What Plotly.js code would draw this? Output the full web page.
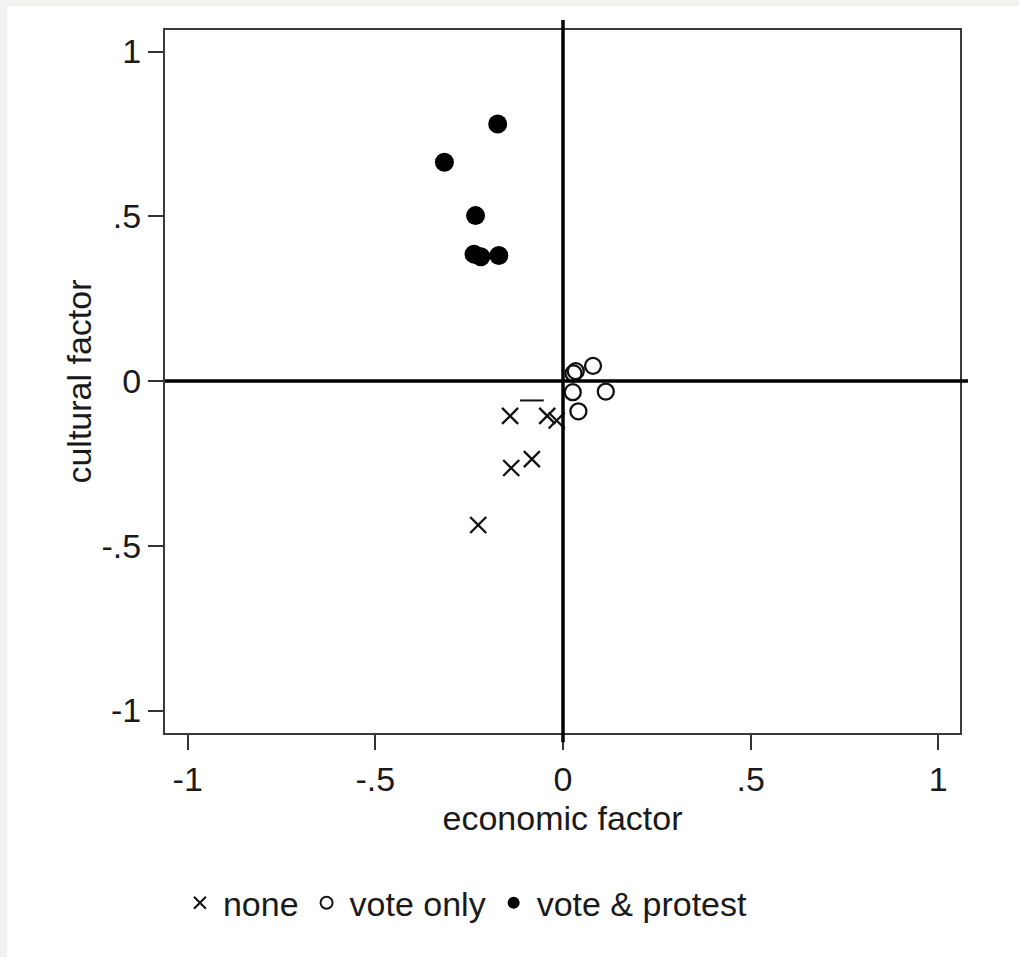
<!DOCTYPE html>
<html>
<head>
<meta charset="utf-8">
<script src="https://cdn.plot.ly/plotly-3.0.1.min.js"></script>
<style>
  html, body { margin: 0; padding: 0; background: #f2f2f0; width: 1019px; height: 957px; overflow: hidden; }
  #chart { position: absolute; left: 7px; top: 6px; width: 1012px; height: 951px; background: #ffffff; }
</style>
</head>
<body>
<div id="chart"></div>
<script>
// ---- data ----
const noneX = [-0.141, -0.042, -0.017, -0.138, -0.083, -0.226];
const noneY = [-0.106, -0.106, -0.120, -0.264, -0.237, -0.437];

const voteOnlyX = [0.034, 0.028, 0.080, 0.026, 0.114, 0.041];
const voteOnlyY = [0.030, 0.023, 0.046, -0.034, -0.032, -0.092];

const protestX = [-0.174, -0.316, -0.233, -0.237, -0.219, -0.171];
const protestY = [0.780, 0.664, 0.502, 0.385, 0.377, 0.381];

const strayX = [-0.083];
const strayY = [-0.059];

const tickVals = [-1, -0.5, 0, 0.5, 1];
const tickText = ['-1', '-.5', '0', '.5', '1'];

const seriesNames = ['none', 'vote only', 'vote & protest'];

const xRange = [-1.0605, 1.0578];
const yRange = [-1.0683, 1.0653];

// ---- chart ----
const font = { family: 'Liberation Sans, Arial, sans-serif', size: 34, color: '#1a1a1a' };

const traces = [
  { type: 'scatter', mode: 'markers', name: seriesNames[0], x: noneX, y: noneY,
    marker: { symbol: 'x-thin-open', size: 16, color: '#111', line: { width: 2.3, color: '#111' } } },
  { type: 'scatter', mode: 'markers', name: seriesNames[1], x: voteOnlyX, y: voteOnlyY,
    marker: { symbol: 'circle-open', size: 16, color: '#111', line: { width: 2.3, color: '#111' } } },
  { type: 'scatter', mode: 'markers', name: seriesNames[2], x: protestX, y: protestY,
    marker: { symbol: 'circle', size: 19, color: '#000' } },
  { type: 'scatter', mode: 'markers', showlegend: false, x: strayX, y: strayY,
    marker: { symbol: 'line-ew-open', size: 17, color: '#111', line: { width: 2, color: '#111' } } }
];

// zero lines (extend slightly past the frame), positioned via axis ranges
const px = v => (v - xRange[0]) / (xRange[1] - xRange[0]);
const py = v => (v - yRange[0]) / (yRange[1] - yRange[0]);

const shapes = [
  { type: 'line', xref: 'paper', yref: 'paper', x0: px(0), x1: px(0), y0: py(-1.096), y1: py(1.096),
    line: { color: '#000', width: 3.5 }, layer: 'above' },
  { type: 'line', xref: 'paper', yref: 'paper', x0: px(xRange[0]), x1: px(1.079), y0: py(0), y1: py(0),
    line: { color: '#000', width: 3.5 }, layer: 'above' }
];

const axisCommon = {
  tickvals: tickVals, ticktext: tickText,
  ticks: 'outside', ticklen: 15, tickwidth: 2, tickcolor: '#333',
  showgrid: false, zeroline: false,
  showline: true, linecolor: '#3a3a3a', linewidth: 2, mirror: true,
  tickfont: font, automargin: false, fixedrange: true
};

const layout = {
  width: 1012, height: 951,
  margin: { l: 158, r: 59, t: 24, b: 224 },
  paper_bgcolor: '#ffffff', plot_bgcolor: '#ffffff',
  font: font,
  showlegend: true,
  xaxis: Object.assign({}, axisCommon, {
    range: xRange,
    title: { text: 'economic factor', font: font, standoff: 9 }
  }),
  yaxis: Object.assign({}, axisCommon, {
    range: yRange,
    title: { text: 'cultural factor', font: font, standoff: 0 }
  }),
  legend: {
    orientation: 'h', x: 0.015, xanchor: 'left', y: -0.242, yanchor: 'middle',
    font: font, itemsizing: 'constant', itemwidth: 36, bgcolor: 'rgba(0,0,0,0)', traceorder: 'normal'
  },
  shapes: shapes
};

Plotly.newPlot('chart', traces, layout, { staticPlot: true, displayModeBar: false });
</script>
</body>
</html>
